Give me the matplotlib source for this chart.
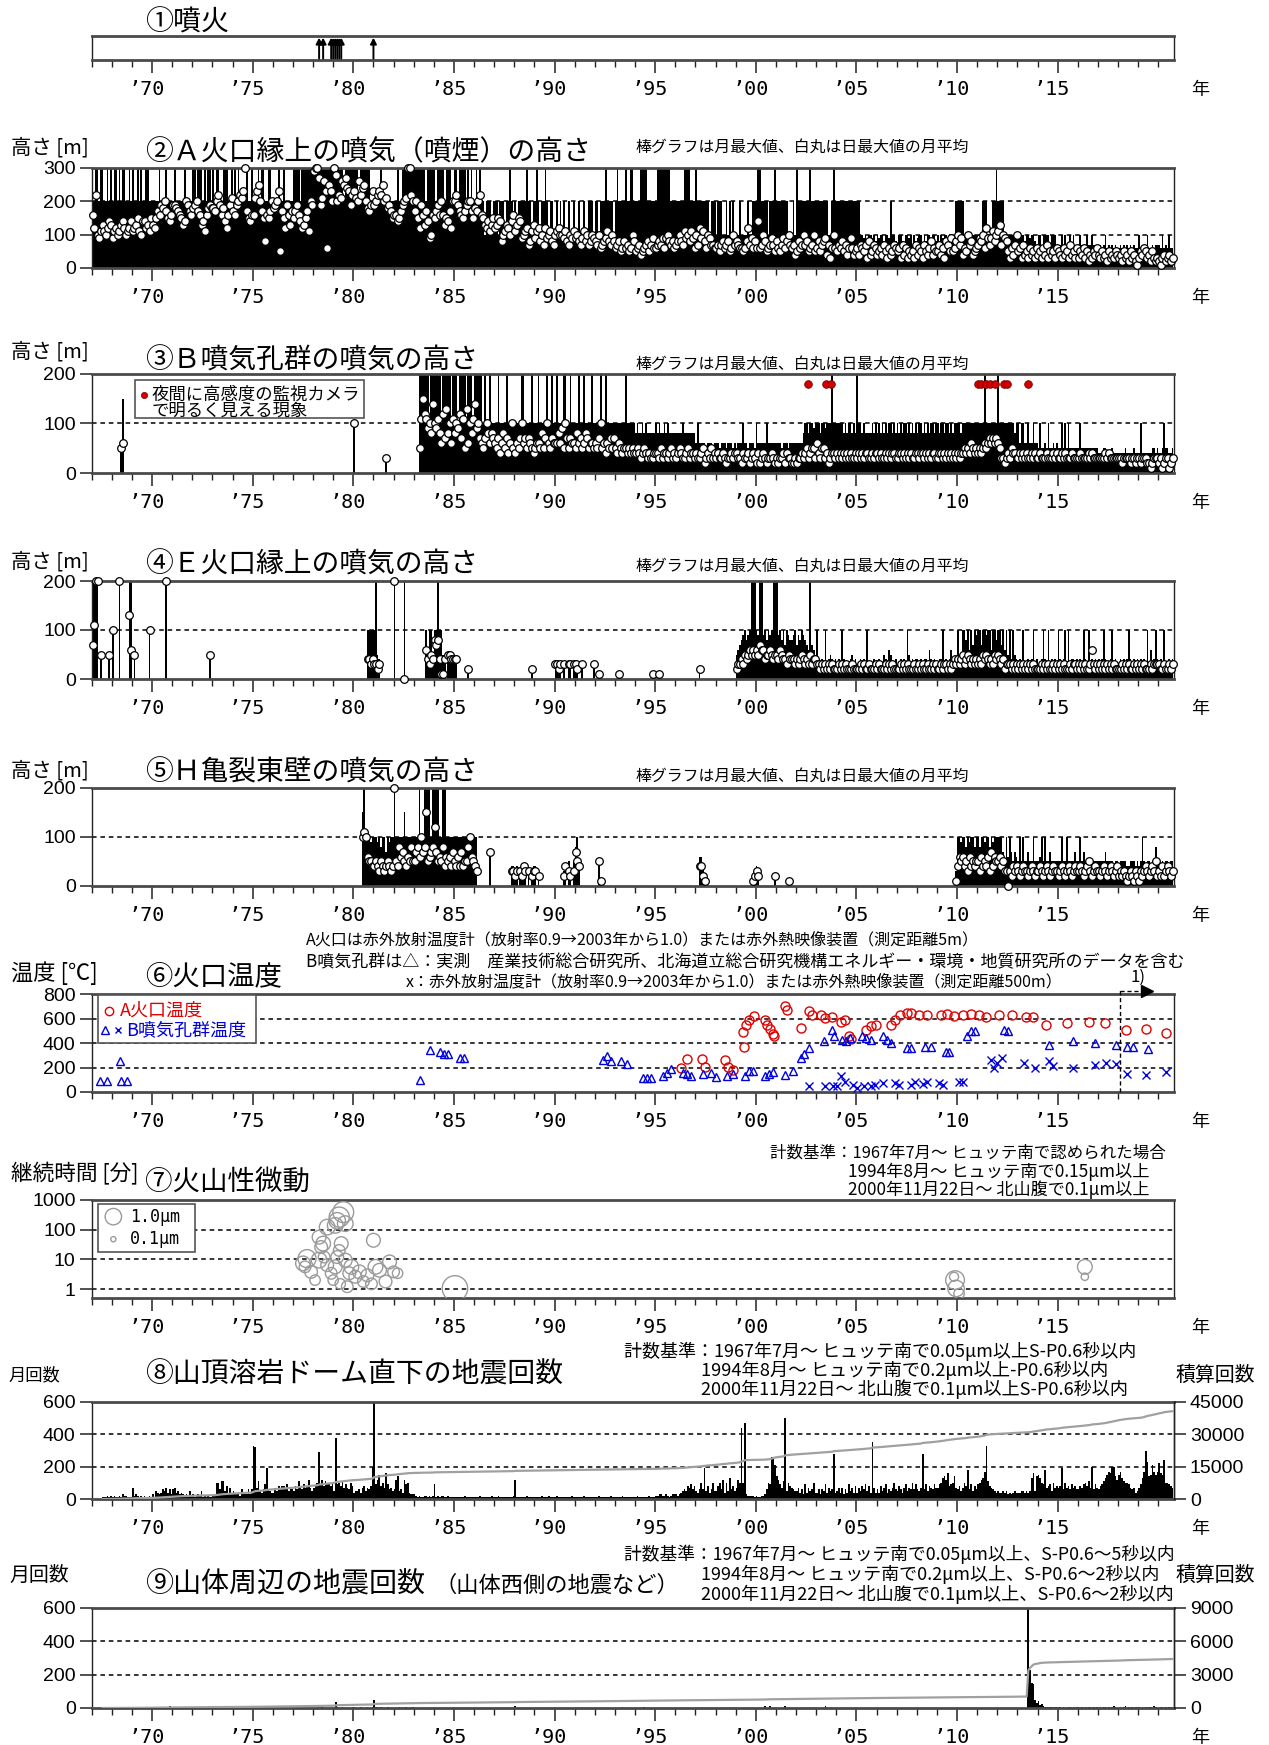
import numpy as np
import matplotlib
matplotlib.use('Agg')
import matplotlib.pyplot as plt
from matplotlib.patches import Rectangle

plt.rcParams['font.family'] = ['Noto Sans CJK JP', 'DejaVu Sans']

# ---------------------------------------------------------------- data
# monthly values, one character per month (Jan..Dec), '.' = no data
# character index in DIGITS times the series unit gives the value
DIGITS = '0123456789abcdefghijklmnopqrstuvwxyzABCDEFGHIJKLMNOPQRSTUVWXYZ'

ERUPTIONS = [1978.3, 1978.5, 1978.9, 1979.0, 1979.1, 1979.2, 1979.3, 1979.4, 1981.0]

# (2) A crater, unit 10 m
P2_MAX = {
    1967: "ukuukuukkuku", 1968: "kuukukuukkuk", 1969: "ukkukukkuukk", 1970: "kkkkukkkukkk",
    1971: "kukkkkkukkkk", 1972: "uukuuukukuuk", 1973: "ukuukkuuukku", 1974: "kukukkkkukku",
    1975: "kkkukuukkuuk", 1976: "kkkukkukkkkk", 1977: "uuuukuuuuuuu", 1978: "uuuuuuuuuuuu",
    1979: "uuuuuukuuuuu", 1980: "uuukuuuuuukk", 1981: "kkkkukkkkkkk", 1982: "kkukkuuuuuuu",
    1983: "uuuuuuukuuuu", 1984: "ukuuuukuuukk", 1985: "uukuuuukukuk", 1986: "kukukkakkkak",
    1987: "kkakkkakkuka", 1988: "kakkkkkukkak", 1989: "kukakkukakka", 1990: "akakakaakaak",
    1991: "aakaakaakkka", 1992: "kkakkkukkkka", 1993: "kukkkkukkuuk", 1994: "kkkuuuukkkkk",
    1995: "kuuuuuuuukkk", 1996: "kkkkkuuuukkk", 1997: "ukkkkkkkakkk", 1998: "akkkaakakaka",
    1999: "aakaaaakaakk", 2000: "kuukkkkakkku", 2001: "kkkkkkkaaaka", 2002: "ukkkkkkkukkk",
    2003: "kkkkkkkaakuk", 2004: "kkkkkkkkkkkk", 2005: "kkaa9a8aa9a8", 2006: "a9aa8aa9kaa8",
    2007: "7aa87aa9a7a8", 2008: "9aa7a8aa9aa8", 2009: "a7a9aa87aa9k", 2010: "kkkkaaaaaaaa",
    2011: "aaakkkaaakku", 2012: "kkkkaaaaaaaa", 2013: "a9aa8aa9aa87", 2014: "aa7aaaa7aaa7",
    2015: "77a7a77a7a77", 2016: "7a776a77a767", 2017: "6767a6767676", 2018: "676767676766",
    2019: "a6767a667677", 2020: "76a676a66",
}
P2_MEAN = {
    1967: "gcma9bdbaced", 1968: "9bcabdecabce", 1969: "bcdfbaeecdbf", 1970: "dcfhgjikhfeg",
    1971: "jjihgfdekjhg", 1972: "ijkhgdebgiji", 1973: "ihkmjgiecgjl", 1974: "hgjkmlnuhfeg",
    1975: "glnpkhf8gfhk", 1976: "ijkn5hfcjgdh", 1977: "fhjgecdfhbkj", 1978: "tuurjlqn6pnk",
    1979: "uskmlqpronjm", 1980: "nlkqmopkihjn", 1981: "jkmnmpklijhf", 1982: "ggefhjkluumk",
    1983: "hkfcjgdhe9ag", 1984: "fhjgkgdfehck", 1985: "kmjhgfhjkkhf", 1986: "ihkmgfdcebdf",
    1987: "cdfe8abdcaeg", 1988: "bdfe9abc78bd", 1989: "9bc8a7c9ab87", 1990: "abcaa9b87a9b",
    1991: "9a879b8a78a9", 1992: "87a6789b87a8", 1993: "6785686756a8", 1994: "567456785796",
    1995: "6787969a8786", 1996: "78a87b9a8b96", 1997: "a7c9b86a9776", 1998: "6757867856a7",
    1999: "8766568c7968", 2000: "6e67a8567975", 2001: "8657968a7674", 2002: "5867a78567a5",
    2003: "6857894736a6", 2004: "576857469645", 2005: "647657384576", 2006: "456475364576",
    2007: "563746354537", 2008: "465375468465", 2009: "574638759568", 2010: "a79465a78456",
    2011: "798a6c979b8a", 2012: "bd7a9853647a", 2013: "563745364536", 2014: "453647354536",
    2015: "543645374536", 2016: "354635243546", 2017: "435342534354", 2018: "342534253421",
    2019: "354653425323", 2020: "213423423",
}

# (3) B fumaroles, unit 10 m
P3_MAX = {
    1968: ".....5f.....", 1980: "a...........", 1981: ".......3....",
    1983: "...kkkkkkakk", 1984: "kkkkakkkkkak", 1985: "kkakkkkakkka", 1986: "kkkkkakaakaa",
    1987: "aakaaaakaaaa", 1988: "aaaakkaaaaka", 1989: "aakaaaakaaka", 1990: "akaaakkaakaa",
    1991: "aakaakaaaaka", 1992: "aaakaakaaaaa", 1993: "aaaaaakaaaaa", 1994: "8a88a8a88888",
    1995: "a8a88a8a8888", 1996: "8888a8888888", 1997: "6a6666566656", 1998: "665666566656",
    1999: "5666a6656665", 2000: "a66666a66666", 2001: "666566656666", 2002: "66668aa8aa9a",
    2003: "aa8aa9aaakaa", 2004: "aaaa8a8aa8a8", 2005: "kaa8a8888a8a", 2006: "8a8a8a8aa8a8",
    2007: "a8a8aa8a8a8a", 2008: "8aa8a8a8aa8a", 2009: "a8aa8aa8a8aa", 2010: "aa8aaaaaaaaa",
    2011: "aaaakaaaaaaa", 2012: "kaaaaaaaaa8a", 2013: "a6aa66a66a66", 2014: "5a5565a55656",
    2015: "55a5a5a55555", 2016: "5a5555555555", 2017: "444554445444", 2018: "444454444544",
    2019: "4a4444445545", 2020: "445a55445",
}
P3_MEAN = {
    1968: ".....56.....", 1980: "a...........", 1981: ".......3....",
    1983: "...5bfcb9a8e", 1984: "a9b86c7d8a6b", 1985: "8a9c7b5d6a8b", 1986: "e9a7657a8687",
    1987: "6574685746a5", 1988: "4657a6757654", 1989: "5665857a6576", 1990: "668695a75766",
    1991: "586756875665", 1992: "657a56465757", 1993: "546545545454", 1994: "454345434334",
    1995: "443534434534", 1996: "345433453443", 1997: "433452343534", 1998: "343343233434",
    1999: "433243342343", 2000: "242343233432", 2001: "323342433223", 2002: "233434534553",
    2003: "643553423443", 2004: "434343434334", 2005: "343434433434", 2006: "434334343443",
    2007: "344343434334", 2008: "434434343443", 2009: "344343434343", 2010: "434454546545",
    2011: "454565676767", 2012: "653323435443", 2013: "343434334343", 2014: "343334333434",
    2015: "334343334333", 2016: "343333434333", 2017: "333343433333", 2018: "332333323323",
    2019: "323332212333", 2020: "231233123",
}
P3_GLOW_YEAR = [2002.58, 2003.5, 2003.76, 2011.03, 2011.2, 2011.46, 2011.64, 2011.9,
                2012.33, 2012.5, 2013.55]
P3_GLOW_VAL = [180] * 11

# (4) E crater, unit 10 m
P4_MAX = {
    1967: "kkkk.5....5.", 1968: "a...k.....kk", 1969: ".5........a.", 1970: "........k...",
    1972: "..........5.", 1980: "........aaaa", 1981: "ak54........", 1982: "k.....k.....",
    1983: ".......a5aa5", 1984: "aakaa55.5555", 1985: "55......2...", 1988: "..........2.",
    1990: "3323.3..33.3", 1991: "33..3......3", 1992: "..1.........", 1993: "..1.........",
    1994: "..........1.", 1995: "..1.........", 1997: "..2.........",
    1999: "56789a89akkk", 2000: "a9kk9a8a9akk", 2001: "k9a8a7a9889a", 2002: "798a9876k765",
    2003: "a4343a345434", 2004: "343a43234534", 2005: "334343a32343", 2006: "243354365334",
    2007: "324343a53434", 2008: "434344364343", 2009: "344a34346434", 2010: "a43aa8a6a7a9",
    2011: "aa7aa9aa6aa8", 2012: "aa7a6a5a4a54", 2013: "343a33434a34", 2014: "334a43a34343",
    2015: "a434a3a34434", 2016: "343a43a34343", 2017: "434a4334a343", 2018: "343434a43434",
    2019: "34343a3634a4", 2020: "343a33434",
}
P4_MEAN = {
    1967: "7bkk.5....5.", 1968: "a...k.....d6", 1969: ".5........a.", 1970: "........k...",
    1972: "..........5.", 1980: "........4434", 1981: "3323........", 1982: "k.....0.....",
    1983: ".......64354", 1984: "8784114.5544", 1985: "44......2...", 1988: "..........2.",
    1990: "3323.3..33.3", 1991: "32..3......3", 1992: "..1.........", 1993: "..1.........",
    1994: "..........1.", 1995: "..1.........", 1997: "..2.........",
    1999: "233435456565", 2000: "657664556545", 2001: "546544354443", 2002: "434543435344",
    2003: "332323232322", 2004: "232323222322", 2005: "223232232223", 2006: "232223232322",
    2007: "223232322232", 2008: "232322322323", 2009: "223233232343", 2010: "434534543434",
    2011: "343545434354", 2012: "543423332323", 2013: "232323232322", 2014: "223232322323",
    2015: "232322232332", 2016: "323232236323", 2017: "232323232322", 2018: "223232322323",
    2019: "232322232333", 2020: "322322323",
}

# (5) H fissure, unit 10 m
P5_MAX = {
    1980: ".....fkaaa9a", 1981: "aa9a8aa7a9aa", 1982: "kaaaaafaaaaa", 1983: "aaakaakkkkak",
    1984: "kkkaakkaaaaa", 1985: "aaaaaaaaaaaa", 1986: "aa.......7..", 1987: "..........44",
    1988: "34.3343.4.34", 1989: "4.3.........", 1990: ".....34.53.5", 1991: "8a5.........",
    1992: "..51........", 1997: "..6642......", 1999: "..........23", 2000: "42.........2",
    2001: ".......1....", 2009: "...........3",
    2010: "aa9aa8a9aa8a", 2011: "a8aa9aa8a9aa", 2012: "aaa75a6a7576", 2013: "5a5a55755a55",
    2014: "56a5a5575555", 2015: "55a55a555575", 2016: "5a5755555555", 2017: "555575555455",
    2018: "455554455545", 2019: "45a545545485", 2020: "545455455",
}
P5_MEAN = {
    1980: ".....aba6554", 1981: "454354345434", 1982: "k54867546585", 1983: "5786a78f5678",
    1984: "c75658465647", 1985: "546474558a65", 1986: "43.......7..", 1987: "..........33",
    1988: "23.3243.3.23", 1989: "3.2.........", 1990: ".....24.32.3", 1991: "754.........",
    1992: "..51........", 1997: "..4421......", 1999: "..........12", 2000: "32.........2",
    2001: ".......1....", 2009: "...........1",
    2010: "465645364545", 2011: "536454637465", 2012: "564533032434", 2013: "323433234323",
    2014: "343234323433", 2015: "234323432343", 2016: "343234532343", 2017: "323432343234",
    2018: "232321232132", 2019: "132343234352", 2020: "324234323",
}

# (6) crater temperatures [deg C]
A_YEAR = [1996.3, 1996.6, 1997.35, 1997.5, 1998.45, 1998.6, 1998.85, 1999.35, 1999.4, 1999.5,
          1999.65, 1999.9, 2000.45, 2000.55, 2000.7, 2000.85, 2000.9, 2001.45, 2001.55, 2002.25,
          2002.65, 2002.8, 2003.25, 2003.45, 2003.8, 2004.25, 2004.45, 2004.65, 2004.75, 2005.5,
          2005.7, 2005.95, 2006.7, 2006.9, 2007.15, 2007.5, 2007.7, 2008.1, 2008.5, 2009.2,
          2009.5, 2009.85, 2010.3, 2010.7, 2011.1, 2011.45, 2012.1, 2012.75, 2013.45, 2013.75,
          2014.4, 2015.45, 2016.55, 2017.35, 2018.4, 2019.4, 2020.4]
A_TEMP = [195, 270, 270, 205, 265, 205, 180, 490, 370, 550,
          590, 620, 590, 550, 515, 475, 455, 700, 670, 520,
          660, 630, 625, 605, 610, 575, 590, 455, 430, 510,
          535, 550, 550, 590, 630, 645, 645, 625, 625, 625,
          640, 620, 625, 640, 625, 610, 625, 625, 610, 610,
          550, 560, 570, 565, 505, 515, 480]
B_TRI_YEAR = [1967.4, 1967.75, 1968.4, 1968.45, 1968.75, 1983.3, 1983.8, 1984.3, 1984.5, 1984.7,
              1985.3, 1985.5, 1992.4, 1992.6, 1992.8, 1993.3, 1993.6, 1994.4, 1994.6, 1994.8,
              1995.4, 1995.6, 1995.8, 1996.4, 1996.6, 1996.8, 1997.4, 1997.75, 1998.0, 1998.55,
              1998.85, 1999.45, 1999.65, 1999.85, 2000.45, 2000.65, 2000.85, 2001.45, 2001.85, 2002.25,
              2002.4, 2002.65, 2003.4, 2003.8, 2003.9, 2004.3, 2004.5, 2004.7, 2005.3, 2005.5,
              2005.7, 2006.3, 2006.5, 2006.7, 2007.5, 2007.7, 2008.4, 2008.7, 2009.45, 2009.6,
              2010.5, 2010.7, 2010.9, 2012.35, 2012.55, 2014.55, 2015.75, 2016.85, 2017.9, 2018.45,
              2018.75, 2019.5]
B_TRI_TEMP = [92, 92, 250, 92, 92, 100, 345, 325, 312, 312,
              280, 280, 265, 290, 255, 250, 225, 115, 115, 115,
              130, 155, 190, 155, 145, 130, 150, 155, 125, 130,
              150, 130, 170, 170, 130, 150, 160, 135, 170, 280,
              310, 360, 415, 510, 455, 425, 415, 440, 455, 440,
              425, 455, 425, 400, 360, 360, 365, 365, 330, 330,
              455, 495, 495, 510, 495, 385, 415, 400, 385, 370,
              370, 355]
B_X_YEAR = [2002.65, 2003.45, 2003.85, 2004.05, 2004.25, 2004.45, 2004.85, 2005.05, 2005.4, 2005.7,
            2005.9, 2006.3, 2006.9, 2007.1, 2007.7, 2007.9, 2008.3, 2008.5, 2009.1, 2009.3,
            2010.1, 2010.3, 2011.7, 2011.85, 2012.0, 2012.25, 2013.35, 2013.85, 2014.55, 2014.75,
            2015.75, 2016.85, 2017.4, 2017.9, 2018.45, 2019.4, 2020.4]
B_X_TEMP = [45, 50, 50, 45, 130, 80, 60, 35, 45, 45,
            60, 70, 70, 60, 60, 80, 65, 85, 70, 60,
            80, 80, 265, 200, 240, 280, 235, 200, 250, 210,
            200, 220, 235, 225, 150, 140, 160]
METHOD_CHANGE = 2018.1

# (7) volcanic tremor: year, duration [min], amplitude [um]
TREMOR_YEAR = [1977.5, 1977.6, 1977.7, 1977.9, 1978.1, 1978.3, 1978.3, 1978.4, 1978.5, 1978.55,
               1978.7, 1978.7, 1978.9, 1979.0, 1979.1, 1979.1, 1979.2, 1979.2, 1979.3, 1979.3,
               1979.35, 1979.4, 1979.5, 1979.6, 1979.6, 1979.7, 1979.8, 1979.9, 1980.1, 1980.3,
               1980.5, 1980.7, 1980.9, 1981.0, 1981.1, 1981.3, 1981.6, 1981.8, 1982.0, 1982.2,
               1985.05, 2009.85, 2009.9, 2009.95, 2010.1, 2016.35, 2016.35]
TREMOR_MIN = [7.3, 5.6, 10.6, 3.8, 2.0, 56, 9.4, 26, 34, 12,
              122, 6.4, 3.4, 2.0, 140, 5.6, 200, 12, 265, 20,
              1.5, 34, 390, 160, 9.4, 1.2, 3.4, 5.6, 2.6, 3.8,
              1.8, 2.9, 1.5, 44, 5.6, 4.3, 1.8, 8.2, 3.8, 3.4,
              1.05, 2.6, 2.0, 1.05, 0.7, 5.6, 2.6]
TREMOR_AMP = [0.8, 0.5, 1.2, 0.6, 0.4, 0.7, 0.9, 0.6, 0.8, 0.5,
              0.9, 0.6, 0.5, 0.4, 0.9, 0.7, 1.0, 0.6, 1.5, 0.5,
              0.4, 0.7, 1.6, 0.9, 0.7, 0.5, 0.6, 0.8, 0.6, 0.7,
              0.5, 0.6, 0.5, 0.7, 0.8, 0.7, 0.6, 0.7, 0.5, 0.4,
              2.4, 0.3, 1.3, 1.0, 0.4, 0.8, 0.2]

# (8) earthquakes under the summit dome, unit 10 events/month
P8_COUNT = {
    1967: "......111212", 1968: "121121322111", 1969: "723212121121", 1970: "315434657463",
    1971: "674534323252", 1972: "312325121211", 1973: "23aa6bb58373", 1974: "543426343636",
    1975: "xw7b5469j654", 1976: "475868879576", 1977: "586b86978c75", 1978: "78at9c8b9a89",
    1979: "5C9a8b7976a8", 1980: "45564785768k", 1981: "Y9cf8a7g9675", 1982: "6ce564c9a433",
    1983: "321211221212", 1984: "912122112111", 1985: "111111211111", 1986: "111211111121",
    1987: "112111111112", 1988: "c11111121111", 1989: "111121112111", 1990: "121111111121",
    1991: "111112111111", 1992: "112111111211", 1993: "111121111111", 1994: "121111112111",
    1995: "223322321233", 1996: "323456587968", 1997: "546a6j5846a5", 1998: "58a6c4a5d685",
    1999: "7caIaL322221", 2000: "2112236a9qpl", 2001: "ec97bO5a8765", 2002: "5746394756a4",
    2003: "4636594756s4", 2004: "574736495748", 2005: "475869584z74", 2006: "6485794657a6",
    2007: "586479576a69", 2008: "657s69587697", 2009: "79adecg89ae7", 2010: "6857a8i69586",
    2011: "9acdhxb87654", 2012: "544545343454", 2013: "44554545dg5e", 2014: "fda9i7895a78",
    2015: "78j6a7869786", 2016: "6879a8b7k697", 2017: "689bdfhgkkec", 2018: "fhdbaa976745",
    2019: "79dhuneflhfh", 2020: "mgfoaa987",
}

# (9) earthquakes around the edifice, unit 1 event/month
P9_COUNT = {
    1967: "......101010", 1968: "012101010120", 1969: "101210102101", 1970: "8121010121a1",
    1971: "101210121012", 1972: "210121012101", 1973: "121012101210", 1974: "012101210121",
    1975: "a21232123212", 1976: "232123212321", 1977: "123212321232", 1978: "232125321232",
    1979: "3C8234323234", 1980: "432343234325", 1981: "N54343234323", 1982: "323432343234",
    1983: "212121112121", 1984: "121211212112", 1985: "211212121211", 1986: "121121212121",
    1987: "212112121211", 1988: "a21211212121", 1989: "121212112112", 1990: "211211212121",
    1991: "121212121121", 1992: "212121232121", 1993: "121252121312", 1994: "212125212121",
    1995: "121121212112", 1996: "211212121211", 1997: "121211212121", 1998: "212121121212",
    1999: "121212211211", 2000: "21212a21b212", 2001: "12121f121212", 2002: "211212121211",
    2003: "12121a121212", 2004: "212112121121", 2005: "121212211212", 2006: "211212121211",
    2007: "121121212121", 2008: "212112121212", 2009: "121212112121", 2010: "211211212121",
    2011: "121212121121", 2012: "212121211212", 2013: "121312......", 2014: "Ekpa86645364",
    2015: "342532643525", 2016: "435263542635", 2017: "253642535f42", 2018: "3524f3625342",
    2019: "425362543a52", 2020: "354263542",
}
P9_BIG = {(2013, 6): 2350, (2013, 7): 230, (2013, 8): 150, (2013, 9): 145,
          (2013, 10): 50, (2013, 11): 30}

YEAR_TICKS = list(range(1970, 2020, 5))
NOTE_BAR = "棒グラフは月最大値、白丸は日最大値の月平均"

# ---------------------------------------------------------------- helpers
W, H = 1269, 1745
LEFT, RIGHT = 91.7, 1174.0
XMIN, XMAX = 1967.0, 2020.78
MONO = 'DejaVu Sans Mono'
SANS = 'Liberation Sans'


def monthly(table, unit, extra=None):
    xs, vs = [], []
    for yr, row in table.items():
        for m, ch in enumerate(row[:12]):
            if ch != '.':
                xs.append(yr + (m + 0.5) / 12)
                vs.append(DIGITS.index(ch) * unit)
    for (yr, m), v in (extra or {}).items():
        xs.append(yr + (m + 0.5) / 12)
        vs.append(v)
    order = np.argsort(xs)
    return np.array(xs)[order], np.array(vs, float)[order]


fig = plt.figure(figsize=(W / 100, H / 100), dpi=100)
fig.patch.set_facecolor('white')
REND = fig.canvas.get_renderer()


def panel(top, bottom):
    ax = fig.add_axes([LEFT / W, 1 - bottom / H, (RIGHT - LEFT) / W, (bottom - top) / H])
    ax.set_xlim(XMIN, XMAX)
    ax.set_xticks(YEAR_TICKS)
    ax.set_xticks(range(1967, 2021), minor=True)
    ax.tick_params(axis='x', which='major', length=9, width=1.1, direction='out',
                   labelbottom=False, color='#222')
    ax.tick_params(axis='x', which='minor', length=5, width=1.0, direction='out', color='#222')
    ax.tick_params(axis='y', length=8.5, width=1.1, direction='out', pad=3, color='#222')
    for s in ('top', 'bottom'):
        ax.spines[s].set_linewidth(2.0)
        ax.spines[s].set_color('#4a4a4a')
    for s in ('left', 'right'):
        ax.spines[s].set_linewidth(1.0)
        ax.spines[s].set_color('#222')
    for yr in YEAR_TICKS:
        ax.annotate(f"’{yr % 100:02d}", xy=(yr, 0), xycoords=('data', 'axes fraction'),
                    xytext=(-4, -21.5), textcoords='offset points', ha='center', va='center',
                    fontfamily=MONO, fontsize=14.5, annotation_clip=False)
    ax.annotate("年", xy=(1, 0), xycoords='axes fraction', xytext=(19, -21.5),
                textcoords='offset points', ha='center', va='center', fontsize=13)
    return ax


def yticks(ax, vals, labels=None):
    ax.set_yticks(vals)
    ax.set_yticklabels(labels or [str(v) for v in vals], fontfamily=SANS, fontsize=14)


def grid(ax, vals):
    for v in vals:
        ax.axhline(v, color='k', lw=1.1, ls=(0, (3, 2.5)), zorder=0.5)


def put(x0, yc, s, size, x1=None, **kw):
    t = fig.text(x0 / W, 1 - yc / H, s, fontsize=size, ha='left', va='center', **kw)
    if x1 is not None:
        w = t.get_window_extent(renderer=REND).width
        t.set_fontsize(size * (x1 - x0) / w)
    return t


def height_panel(top, bottom, ymax, tmax, tmean):
    ax = panel(top, bottom)
    ax.set_ylim(0, ymax)
    yticks(ax, list(range(0, ymax + 1, 100)))
    grid(ax, list(range(100, ymax, 100)))
    bx, bv = monthly(tmax, 10)
    ax.bar(bx, bv, width=1 / 12, color='k', linewidth=0, zorder=2)
    cx, cv = monthly(tmean, 10)
    ax.plot(cx, cv, 'o', mfc='white', mec='k', ms=5.5, mew=0.9, ls='none',
            zorder=3, clip_on=False)
    return ax


# ---------------------------------------------------------------- (1) eruptions
ax1 = panel(36, 60)
ax1.set_ylim(0, 1)
ax1.set_yticks([])
for yr in ERUPTIONS:
    ax1.annotate('', xy=(yr, 0.93), xytext=(yr, 0.06),
                 xycoords=('data', 'axes fraction'), textcoords=('data', 'axes fraction'),
                 arrowprops=dict(arrowstyle='-|>,head_length=0.35,head_width=0.18',
                                 color='k', lw=1.4, shrinkA=0, shrinkB=0))
put(145, 23, "①噴火", 20, 229)

# ---------------------------------------------------------------- (2) - (5) plume heights
height_panel(168, 268, 300, P2_MAX, P2_MEAN)
put(11, 148, "高さ [m]", 14, 89)
put(145, 152, "②Ａ火口縁上の噴気（噴煙）の高さ", 20, 590)
put(636, 147, NOTE_BAR, 11.5, 971)

ax3 = height_panel(374, 473, 200, P3_MAX, P3_MEAN)
ax3.plot(P3_GLOW_YEAR, P3_GLOW_VAL, 'o', color='#d40000', mec='#7a0000', ms=5.5, mew=0.6,
         ls='none', zorder=4)
ax3.add_patch(Rectangle((0.04, 0.555), 0.212, 0.385, transform=ax3.transAxes,
                        facecolor='white', edgecolor='#555', lw=1.2, zorder=5))
ax3.plot([0.048], [0.79], 'o', color='#d40000', mec='#7a0000', ms=4.5, mew=0.5,
         transform=ax3.transAxes, zorder=6)
ax3.text(0.055, 0.79, "夜間に高感度の監視カメラ", transform=ax3.transAxes, fontsize=12.5,
         va='center', ha='left', zorder=6)
ax3.text(0.055, 0.625, "で明るく見える現象", transform=ax3.transAxes, fontsize=12.5,
         va='center', ha='left', zorder=6)
put(11, 352, "高さ [m]", 14, 89)
put(145, 361, "③Ｂ噴気孔群の噴気の高さ", 20, 478)
put(636, 364, NOTE_BAR, 11.5, 971)

height_panel(581, 679, 200, P4_MAX, P4_MEAN)
put(11, 562, "高さ [m]", 14, 89)
put(145, 565, "④Ｅ火口縁上の噴気の高さ", 20, 478)
put(636, 566, NOTE_BAR, 11.5, 971)

height_panel(788, 886, 200, P5_MAX, P5_MEAN)
put(11, 771, "高さ [m]", 14, 89)
put(145, 773, "⑤Ｈ亀裂東壁の噴気の高さ", 20, 478)
put(636, 776, NOTE_BAR, 11.5, 971)

# ---------------------------------------------------------------- (6) temperature
RED, BLUE = '#e00000', '#0000dd'
ax6 = panel(994, 1092)
ax6.set_ylim(0, 800)
yticks(ax6, [0, 200, 400, 600, 800])
grid(ax6, [200, 400, 600])
ax6.plot(A_YEAR, A_TEMP, 'o', mfc='none', mec=RED, ms=6.5, mew=1.0, ls='none', zorder=3)
ax6.plot(B_TRI_YEAR, B_TRI_TEMP, '^', mfc='none', mec=BLUE, ms=6, mew=1.0, ls='none', zorder=3)
ax6.plot(B_X_YEAR, B_X_TEMP, 'x', color=BLUE, ms=5.5, mew=1.0, ls='none', zorder=3)
bt = ax6.get_xaxis_transform()
ax6.plot([METHOD_CHANGE, METHOD_CHANGE], [0, 1.05], transform=bt, color='k', lw=1.0,
         ls=(0, (3, 2)), clip_on=False, zorder=4)
ax6.plot([METHOD_CHANGE, 2019.2], [1.035, 1.035], transform=bt, color='k', lw=1.0,
         ls=(0, (3, 2)), clip_on=False, zorder=4)
ax6.plot([2019.45], [1.035], '>', color='k', ms=8, transform=bt, clip_on=False, zorder=4)
ax6.add_patch(Rectangle((0.006, 0.5), 0.146, 0.49, transform=ax6.transAxes,
                        facecolor='white', edgecolor='#555', lw=1.2, zorder=5))
ax6.plot([0.016], [0.83], 'o', mfc='none', mec=RED, ms=6, mew=1.0, transform=ax6.transAxes,
         zorder=6)
ax6.text(0.026, 0.83, "A火口温度", transform=ax6.transAxes, fontsize=13, color=RED,
         va='center', ha='left', zorder=6)
ax6.plot([0.012], [0.63], '^', mfc='none', mec=BLUE, ms=5.5, mew=1.0,
         transform=ax6.transAxes, zorder=6)
ax6.plot([0.024], [0.63], 'x', color=BLUE, ms=5, mew=1.0, transform=ax6.transAxes, zorder=6)
ax6.text(0.032, 0.63, "B噴気孔群温度", transform=ax6.transAxes, fontsize=13, color=BLUE,
         va='center', ha='left', zorder=6)
put(306, 940, "A火口は赤外放射温度計（放射率0.9→2003年から1.0）または赤外熱映像装置（測定距離5m）",
    12, 981)
put(306, 962, "B噴気孔群は△：実測　産業技術総合研究所、北海道立総合研究機構エネルギー・環境・地質研究所のデータを含む",
    12, 1185)
put(406, 982, "x：赤外放射温度計（放射率0.9→2003年から1.0）または赤外熱映像装置（測定距離500m）",
    12, 1064)
put(1130, 977, "1)", 12)
put(11, 973, "温度 [℃]", 14, 98)
put(145, 977, "⑥火口温度", 20, 282)

# ---------------------------------------------------------------- (7) tremor
ax7 = panel(1200, 1298)
ax7.set_yscale('log')
ax7.set_ylim(0.5, 1000)
ax7.yaxis.set_minor_locator(matplotlib.ticker.NullLocator())
yticks(ax7, [1, 10, 100, 1000])
grid(ax7, [1, 10, 100])
ax7.scatter(TREMOR_YEAR, TREMOR_MIN, s=np.array(TREMOR_AMP) * 140, facecolors='none',
            edgecolors='#9a9a9a', linewidths=1.0, zorder=3)
ax7.add_patch(Rectangle((0.006, 0.47), 0.089, 0.49, transform=ax7.transAxes,
                        facecolor='white', edgecolor='#555', lw=1.2, zorder=5))
ax7.scatter([0.02], [0.83], s=140, facecolors='none', edgecolors='#9a9a9a', linewidths=1.0,
            transform=ax7.transAxes, zorder=6)
ax7.scatter([0.02], [0.6], s=14, facecolors='none', edgecolors='#9a9a9a', linewidths=1.0,
            transform=ax7.transAxes, zorder=6)
ax7.text(0.035, 0.83, "1.0μm", transform=ax7.transAxes, fontsize=12, fontfamily=MONO,
         va='center', ha='left', zorder=6)
ax7.text(0.035, 0.6, "0.1μm", transform=ax7.transAxes, fontsize=12, fontfamily=MONO,
         va='center', ha='left', zorder=6)
put(770, 1153, "計数基準：1967年7月～ ヒュッテ南で認められた場合", 12, 1165)
put(848, 1172, "1994年8月～ ヒュッテ南で0.15μm以上", 12, 1150)
put(848, 1190, "2000年11月22日～ 北山腹で0.1μm以上", 12, 1150)
put(11, 1174, "継続時間 [分]", 14, 139)
put(145, 1182, "⑦火山性微動", 20, 310)


# ---------------------------------------------------------------- (8), (9) earthquakes
def quake_panel(top, bottom, table, unit, cmax, cticks, extra=None):
    ax = panel(top, bottom)
    ax.set_ylim(0, 600)
    yticks(ax, [0, 200, 400, 600])
    grid(ax, [200, 400])
    x, v = monthly(table, unit, extra)
    ax.bar(x, v, width=1 / 12, color='k', linewidth=0, zorder=2)
    ax2 = ax.twinx()
    ax2.set_xlim(XMIN, XMAX)
    ax2.plot(x, np.cumsum(v), color='#a0a0a0', lw=1.6, zorder=3)
    ax2.set_ylim(0, cmax)
    ax2.set_yticks(cticks)
    ax2.set_yticklabels([str(c) for c in cticks], fontfamily=SANS, fontsize=14)
    ax2.tick_params(axis='y', length=8.5, width=1.1, direction='out', pad=3, color='#222')
    for s in ('top', 'bottom', 'left'):
        ax2.spines[s].set_visible(False)
    ax2.spines['right'].set_linewidth(1.0)
    ax2.spines['right'].set_color('#222')
    return ax


quake_panel(1402, 1499, P8_COUNT, 10, 45000, [0, 15000, 30000, 45000])
put(624, 1351, "計数基準：1967年7月～ ヒュッテ南で0.05μm以上S-P0.6秒以内", 12, 1136)
put(701, 1370, "1994年8月～ ヒュッテ南で0.2μm以上-P0.6秒以内", 12, 1108)
put(701, 1389, "2000年11月22日～ 北山腹で0.1μm以上S-P0.6秒以内", 12, 1130)
put(9, 1375, "月回数", 14, 61)
put(145, 1375, "⑧山頂溶岩ドーム直下の地震回数", 20, 562)
put(1176, 1375, "積算回数", 14, 1256)

quake_panel(1608, 1708, P9_COUNT, 1, 9000, [0, 3000, 6000, 9000], P9_BIG)
put(624, 1554, "計数基準：1967年7月～ ヒュッテ南で0.05μm以上、S-P0.6～5秒以内", 12, 1175)
put(701, 1574, "1994年8月～ ヒュッテ南で0.2μm以上、S-P0.6～2秒以内", 12, 1160)
put(701, 1594, "2000年11月22日～ 北山腹で0.1μm以上、S-P0.6～2秒以内", 12, 1175)
put(9, 1575, "月回数", 14, 69)
put(145, 1585, "⑨山体周辺の地震回数", 20, 425)
put(434, 1585, "（山体西側の地震など）", 15, 679)
put(1176, 1575, "積算回数", 14, 1256)

fig.savefig('out.png', dpi=100, facecolor='white')
